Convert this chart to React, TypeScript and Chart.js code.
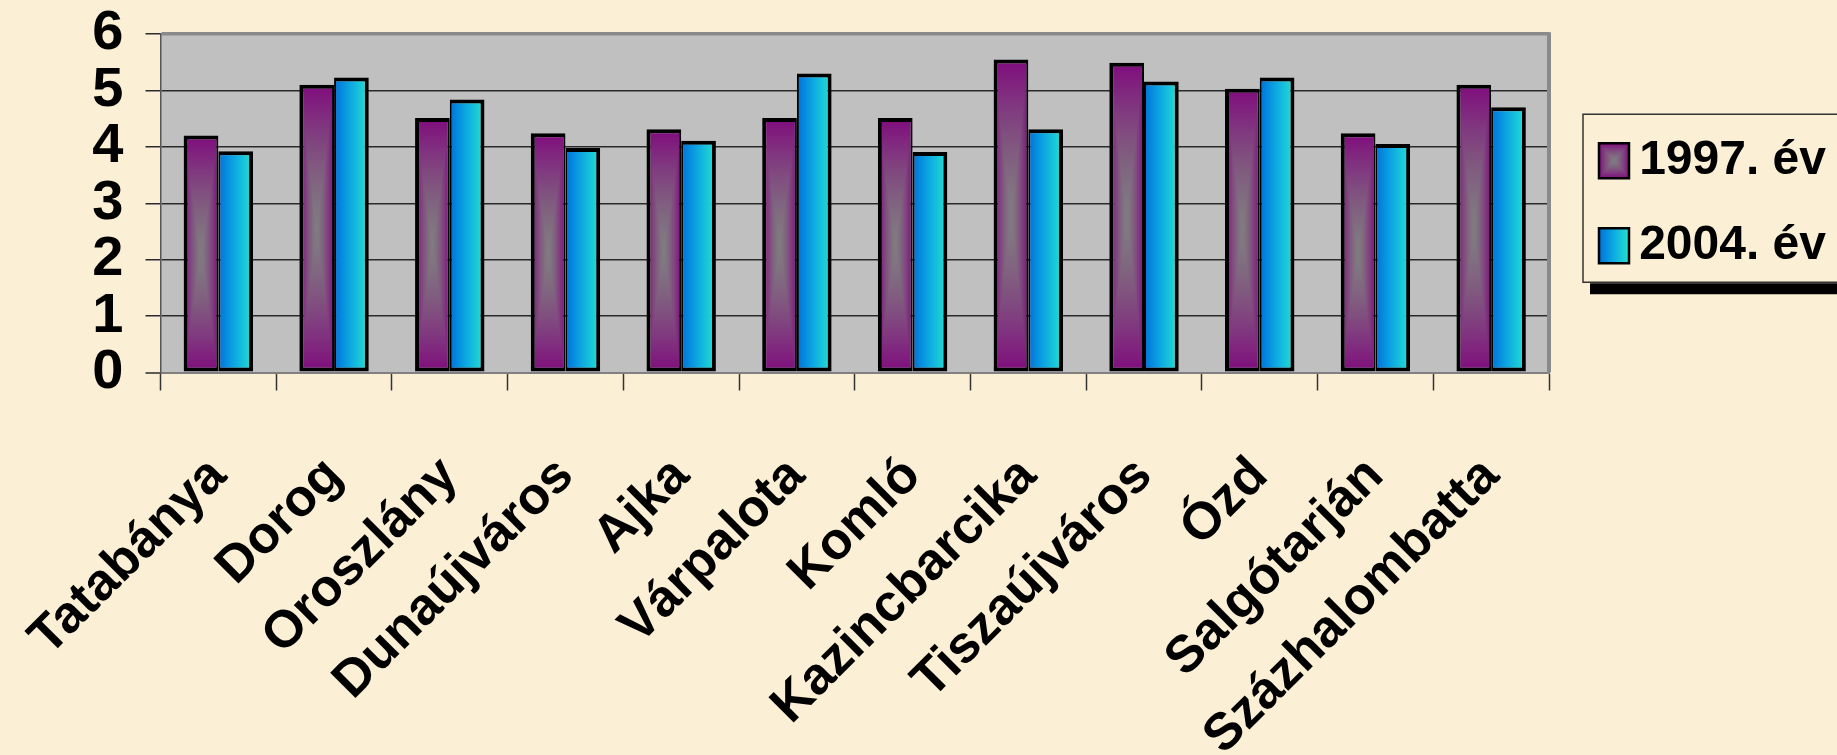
import React, { useEffect, useRef } from 'react';
import { Chart, registerables } from 'chart.js';

Chart.register(...registerables);

const CATEGORIES = [
  'Tatabánya', 'Dorog', 'Oroszlány', 'Dunaújváros', 'Ajka', 'Várpalota',
  'Komló', 'Kazincbarcika', 'Tiszaújváros', 'Ózd', 'Salgótarján', 'Százhalombatta',
];
const SERIES_LABELS = ['1997. év', '2004. év'];
const VALUES_1997 = [4.2, 5.1, 4.51, 4.24, 4.31, 4.51, 4.51, 5.55, 5.49, 5.03, 4.24, 5.1];
const VALUES_2004 = [3.92, 5.23, 4.84, 3.98, 4.11, 5.3, 3.91, 4.31, 5.16, 5.23, 4.05, 4.7];
const Y_MIN = 0;
const Y_MAX = 6;
const Y_STEP = 1;

const NARROW = "'Liberation Sans Narrow', 'Arial Narrow', 'Liberation Sans', Arial, sans-serif";
const ARIAL = "'Liberation Sans', Arial, Helvetica, sans-serif";
const BG = '#FBF0D5';
const CAT_PCT = 0.6;
const TEX = 64;
const LEG_PAD = 37;
const LEG_FONT = 48;
const LEG_BOX_W = 30;
const LEG_BOX_H = 35;
const LEG_INNER_W = 227;

function makeCenterTexture(): HTMLCanvasElement {
  const cv = document.createElement('canvas');
  cv.width = TEX;
  cv.height = TEX;
  const c = cv.getContext('2d')!;
  const img = c.createImageData(TEX, TEX);
  const inner = [128, 124, 128];
  const outer = [128, 12, 126];
  for (let y = 0; y < TEX; y++) {
    for (let x = 0; x < TEX; x++) {
      const dx = Math.abs(((x + 0.5) / TEX) * 2 - 1);
      const dy = Math.abs(((y + 0.5) / TEX) * 2 - 1);
      const t = Math.pow(Math.max(dx, dy), 1.4);
      const i = (y * TEX + x) * 4;
      for (let k = 0; k < 3; k++) img.data[i + k] = Math.round(inner[k] * (1 - t) + outer[k] * t);
      img.data[i + 3] = 255;
    }
  }
  c.putImageData(img, 0, 0);
  return cv;
}

function centerPattern(ctx: CanvasRenderingContext2D, tex: HTMLCanvasElement, x: number, y: number, w: number, h: number) {
  const p = ctx.createPattern(tex, 'repeat')!;
  p.setTransform(new DOMMatrix([w / TEX, 0, 0, h / TEX, x, y]));
  return p;
}

function blueGradient(ctx: CanvasRenderingContext2D, x: number, w: number) {
  const g = ctx.createLinearGradient(x, 0, x + w, 0);
  g.addColorStop(0, '#0070DA');
  g.addColorStop(0.45, '#0CA6E2');
  g.addColorStop(1, '#24E2D0');
  return g;
}

export default function App() {
  const ref = useRef<HTMLCanvasElement>(null);

  useEffect(() => {
    document.body.style.margin = '0';
    document.body.style.background = BG;
    const tex = makeCenterTexture();
    let chart: any = null;
    let cancelled = false;

    const barFill = (series: number) => (c: any) => {
      const ch = c.chart;
      if (c.type !== 'data' || !ch.chartArea || !ch.scales.x || !ch.scales.y) {
        return series === 0 ? '#806080' : '#10A8E0';
      }
      const xs = ch.scales.x;
      const ys = ch.scales.y;
      const catW = (xs.right - xs.left) / CATEGORIES.length;
      const barW = (catW * CAT_PCT) / 2;
      const x0 = xs.getPixelForValue(c.dataIndex) - barW + series * barW;
      const yTop = ys.getPixelForValue(c.raw);
      const yBase = ys.getPixelForValue(0);
      if (series === 0) return centerPattern(ch.ctx, tex, x0, yTop, barW, yBase - yTop);
      return blueGradient(ch.ctx, x0, barW);
    };

    const decor = {
      id: 'decor',
      afterUpdate(ch: any) {
        const L = ch.legend;
        if (!L || !L.legendItems) return;
        const w = LEG_INNER_W + LEG_PAD;
        L.left = L.right - w;
        L.width = w;
        const colH = L.columnSizes && L.columnSizes[0] ? L.columnSizes[0].height : 2 * (LEG_FONT + LEG_PAD);
        const y1 = (L.top + LEG_PAD + L.bottom - colH) / 2;
        const bx = L.left + LEG_PAD;
        const off = (LEG_FONT - LEG_BOX_H) / 2;
        L.legendItems.forEach((it: any, i: number) => {
          const by = y1 + i * (LEG_FONT + LEG_PAD) + off;
          it.fillStyle = i === 0
            ? centerPattern(ch.ctx, tex, bx, by, LEG_BOX_W, LEG_BOX_H)
            : blueGradient(ch.ctx, bx, LEG_BOX_W);
        });
        ch.$legendFrame = {
          x: bx - 16,
          y: y1 + off - 29,
          bottom: y1 + (LEG_FONT + LEG_PAD) + off + LEG_BOX_H + 19,
        };
      },
      beforeDraw(ch: any) {
        const { ctx, chartArea: a } = ch;
        ctx.save();
        ctx.fillStyle = '#C0C0C0';
        ctx.fillRect(a.left, a.top, a.right - a.left, a.bottom - a.top);
        const f = ch.$legendFrame;
        if (f) {
          ctx.fillStyle = '#000';
          ctx.fillRect(f.x + 7, f.bottom + 1, 400, 11);
          ctx.strokeStyle = '#333';
          ctx.lineWidth = 1.5;
          ctx.strokeRect(f.x, f.y, 400, f.bottom - f.y);
        }
        ctx.restore();
      },
      beforeDatasetsDraw(ch: any) {
        const { ctx, chartArea: a } = ch;
        ctx.save();
        ctx.strokeStyle = '#8A8A8A';
        ctx.lineWidth = 4;
        ctx.beginPath();
        ctx.moveTo(a.right, a.top - 1.75);
        ctx.lineTo(a.right, a.bottom);
        ctx.stroke();
        ctx.restore();
      },
    };

    const build = () => {
      if (cancelled || !ref.current) return;
      chart = new Chart(ref.current, {
        type: 'bar',
        data: {
          labels: CATEGORIES,
          datasets: [
            {
              label: SERIES_LABELS[0],
              data: VALUES_1997,
              backgroundColor: barFill(0),
              borderColor: '#000',
              borderWidth: { top: 4, left: 4, bottom: 4, right: 2 },
              borderSkipped: false,
              inflateAmount: 0,
            } as any,
            {
              label: SERIES_LABELS[1],
              data: VALUES_2004,
              backgroundColor: barFill(1),
              borderColor: '#000',
              borderWidth: { top: 4, left: 2, bottom: 4, right: 4 },
              borderSkipped: false,
              inflateAmount: 0,
            } as any,
          ],
        },
        options: {
          responsive: false,
          devicePixelRatio: 1,
          animation: false,
          events: [],
          categoryPercentage: CAT_PCT,
          barPercentage: 1,
          layout: { padding: { top: 34, right: 11, bottom: 0, left: 0 } },
          plugins: {
            tooltip: { enabled: false },
            legend: {
              position: 'right',
              fullSize: false,
              maxWidth: 277,
              labels: {
                boxWidth: LEG_BOX_W,
                boxHeight: LEG_BOX_H,
                padding: LEG_PAD,
                color: '#000',
                textAlign: 'right',
                font: { family: NARROW, size: LEG_FONT, weight: 'bold' },
                generateLabels: (c: any) =>
                  c.data.datasets.map((ds: any, i: number) => ({
                    text: ds.label,
                    fillStyle: i === 0 ? '#806080' : '#10A8E0',
                    strokeStyle: '#000',
                    lineWidth: 2.5,
                    hidden: false,
                    datasetIndex: i,
                    fontColor: '#000',
                  })),
              },
            } as any,
          },
          scales: {
            x: {
              grid: {
                display: true,
                drawOnChartArea: false,
                drawTicks: true,
                offset: true,
                tickLength: 18,
                tickColor: '#333',
                tickWidth: 1.5,
              },
              border: { display: true, color: '#808080', width: 2 },
              ticks: {
                autoSkip: false,
                minRotation: 45,
                maxRotation: 45,
                padding: 55,
                color: '#000',
                font: { family: ARIAL, size: 52, weight: 'bold' },
              },
              afterFit: (s: any) => {
                s.height = 382.5;
                s.paddingLeft = 0;
                s.paddingRight = 0;
              },
            } as any,
            y: {
              min: Y_MIN,
              max: Y_MAX,
              grid: {
                color: (c: any) => (c.tick && c.tick.value === Y_MAX ? '#8A8A8A' : c.tick && c.tick.value === Y_MIN ? '#808080' : '#2A2A2A'),
                lineWidth: (c: any) => (c.tick && c.tick.value === Y_MAX ? 3.5 : c.tick && c.tick.value === Y_MIN ? 2 : 1.5),
                tickLength: 15,
                tickColor: '#2A2A2A',
                tickWidth: 1.5,
              },
              border: { display: true, color: '#555', width: 1.5 },
              ticks: {
                stepSize: Y_STEP,
                autoSkip: false,
                padding: 22,
                color: '#000',
                font: { family: NARROW, size: 56, weight: 'bold' },
              },
              afterFit: (s: any) => {
                s.width = 160.5;
                s.paddingTop = 0;
                s.paddingBottom = 0;
              },
            } as any,
          },
        },
        plugins: [decor as any],
      });
    };

    const fontsApi: any = (document as any).fonts;
    if (fontsApi && fontsApi.load) {
      Promise.all([
        fontsApi.load("bold 56px 'Liberation Sans Narrow'"),
        fontsApi.load("bold 48px 'Liberation Sans'"),
      ]).catch(() => null).then(build);
    } else {
      build();
    }

    return () => {
      cancelled = true;
      if (chart) chart.destroy();
    };
  }, []);

  return (
    <div style={{ width: 1837, height: 755, background: BG }}>
      <canvas ref={ref} width={1837} height={755} style={{ display: 'block', width: 1837, height: 755 }} />
    </div>
  );
}
